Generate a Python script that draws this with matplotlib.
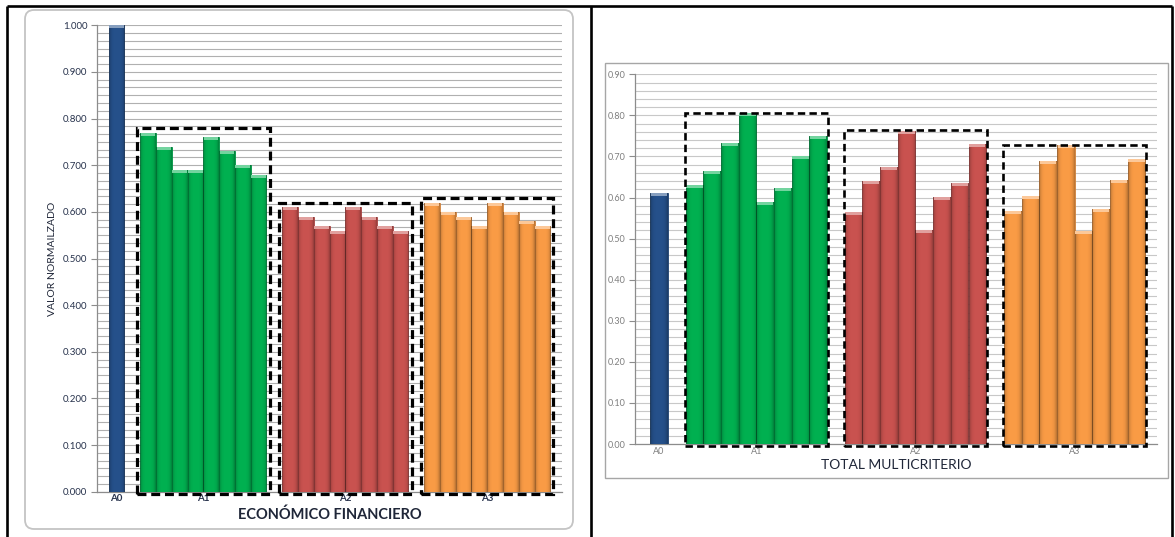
import matplotlib
matplotlib.use("Agg")
import matplotlib.pyplot as plt
import numpy as np
from matplotlib.patches import Rectangle, FancyBboxPatch
from matplotlib.lines import Line2D
from matplotlib.transforms import IdentityTransform
from matplotlib.colors import to_rgb

# ---------------- data ----------------
group_labels = ["A0", "A1", "A2", "A3"]
group_colors = ["#25508A", "#00B050", "#C9524F", "#F99B45"]

# Económico financiero (valor normalizado)
ef_a0 = [1.000]
ef_a1 = [0.77, 0.74, 0.69, 0.69, 0.76, 0.73, 0.70, 0.68]
ef_a2 = [0.61, 0.59, 0.57, 0.56, 0.61, 0.59, 0.57, 0.56]
ef_a3 = [0.62, 0.60, 0.59, 0.57, 0.62, 0.60, 0.58, 0.57]

# Total multicriterio
tm_a0 = [0.61]
tm_a1 = [0.630, 0.665, 0.733, 0.805, 0.589, 0.622, 0.700, 0.750]
tm_a2 = [0.565, 0.640, 0.675, 0.762, 0.522, 0.602, 0.635, 0.731]
tm_a3 = [0.567, 0.603, 0.689, 0.727, 0.518, 0.571, 0.642, 0.695]

W, H = 1175, 537
plt.rcParams["font.family"] = ["Lato", "DejaVu Sans"]
fig = plt.figure(figsize=(W / 100, H / 100), dpi=100)
fig.patch.set_facecolor("white")
PIX = IdentityTransform()


def rect(x0, y0, x1, y1):
    return [x0 / W, 1 - y1 / H, (x1 - x0) / W, (y1 - y0) / H]


def shade_overlay():
    # dark toward the edges of each bar to give a cylindrical look
    t = np.linspace(-1, 1, 64)
    a = 0.28 * np.abs(t) ** 4
    arr = np.zeros((1, 64, 4))
    arr[..., 3] = a
    return arr


def lighten(c, f):
    r = np.array(to_rgb(c))
    return tuple(r + (1 - r) * f)


def darken(c, f):
    return tuple(np.array(to_rgb(c)) * f)


def draw_chart(ax, groups, ylim, major, minor_n, fmt, xlim, box_pad_x, box_pad_top,
               dash, dash_lw, tick_color, tick_size, tick_bold, grid_color, cap_px):
    ax.set_xlim(*xlim)
    ax.set_ylim(*ylim)
    overlay = shade_overlay()
    px_per_unit = ax.get_window_extent().height / (ylim[1] - ylim[0])
    cap_h = cap_px / px_per_unit
    pos = 0
    centers = []
    for gi, vals in enumerate(groups):
        xs = pos + np.arange(len(vals))
        col = group_colors[gi]
        bars = ax.bar(xs, vals, width=1.0, color=col, edgecolor=darken(col, 0.82),
                      linewidth=0.6, zorder=3)
        for b, v in zip(bars, vals):
            x0 = b.get_x()
            im = ax.imshow(overlay, extent=(x0, x0 + 1.0, 0, v), aspect="auto",
                           interpolation="bilinear", zorder=4)
            im.set_clip_path(b)
            ax.add_patch(Rectangle((x0 + 0.04, v - cap_h), 0.92, cap_h,
                                   facecolor=lighten(col, 0.45), edgecolor="none",
                                   zorder=5))
        centers.append(xs.mean())
        if gi > 0:
            top = max(vals) + box_pad_top
            bx0 = xs[0] - 0.5 - box_pad_x
            bx1 = xs[-1] + 0.5 + box_pad_x
            by0 = -0.006 * (ylim[1] - ylim[0])
            ax.add_patch(Rectangle((bx0, by0), bx1 - bx0, top - by0, fill=False,
                                   edgecolor="black", linewidth=dash_lw,
                                   linestyle=(0, dash), zorder=6, clip_on=False))
        pos += len(vals) + 1
    ax.set_xlim(*xlim)
    ax.set_ylim(*ylim)
    ax.set_xticks(centers)
    ax.set_xticklabels(group_labels, fontsize=tick_size,
                       fontweight="bold" if tick_bold else "normal", color=tick_color)
    ax.tick_params(axis="x", length=0, pad=2)
    ticks = np.arange(ylim[0], ylim[1] + 1e-9, major)
    ax.set_yticks(ticks)
    ax.set_yticklabels([fmt % t for t in ticks], fontsize=tick_size, color=tick_color)
    ax.set_yticks(np.linspace(ylim[0], ylim[1], int(round((ylim[1] - ylim[0]) / major)) * minor_n + 1),
                  minor=True)
    ax.tick_params(axis="y", which="major", length=4, color="#8C8C8C", pad=3)
    ax.tick_params(axis="y", which="minor", length=0)
    ax.grid(True, axis="y", which="both", color=grid_color, linewidth=0.8, zorder=0)
    ax.set_axisbelow(True)
    for s in ("top", "right"):
        ax.spines[s].set_visible(False)
    for s in ("left", "bottom"):
        ax.spines[s].set_color("#8C8C8C")
        ax.spines[s].set_linewidth(0.9)


# ---------------- left chart ----------------
fig.add_artist(FancyBboxPatch((25, H - 529), 548, 519,
                              boxstyle="round,pad=0,rounding_size=9",
                              facecolor="white", edgecolor="#C4C4C4", linewidth=1.3,
                              transform=PIX, zorder=-5))
axl = fig.add_axes(rect(97, 25.3, 562, 491.7))
axl.patch.set_alpha(0)
draw_chart(axl, [ef_a0, ef_a1, ef_a2, ef_a3], (0, 1.0), 0.1, 6, "%.3f",
           (-1.24, 28.24), 0.2, 0.01, (2.8, 1.5), 2.3, "#27324C", 7, True,
           "#B0B0B0", 3)
axl.set_xlabel("ECONÓMICO FINANCIERO", fontsize=10.5, fontweight="bold",
               color="#1F2638", labelpad=3)
axl.set_ylabel("VALOR NORMAILZADO", fontsize=7.5, color="#1F2638", labelpad=4)

# ---------------- right chart ----------------
fig.add_artist(Rectangle((605, H - 478), 563, 415, facecolor="white",
                         edgecolor="#A6A6A6", linewidth=1.0, transform=PIX, zorder=-5))
axr = fig.add_axes(rect(635, 74.3, 1157, 444))
axr.patch.set_alpha(0)
draw_chart(axr, [tm_a0, tm_a1, tm_a2, tm_a3], (0, 0.9), 0.1, 5, "%.2f",
           (-1.36, 28.16), 0.06, 0.002, (2.8, 1.6), 1.9, "#7F7F7F", 6.5, False,
           "#C8C8C8", 3)
axr.set_xlabel("TOTAL MULTICRITERIO", fontsize=10, color="#1F2638", labelpad=2)

# ---------------- table borders ----------------
for (x0, y0, x1, y1) in [(7, 6, 1172, 6), (7, 6, 7, 537), (590.5, 6, 590.5, 537),
                         (1172, 6, 1172, 537)]:
    fig.add_artist(Line2D([x0, x1], [H - y0, H - y1], color="black", linewidth=1.9,
                          transform=PIX, solid_capstyle="butt", zorder=10))

fig.savefig("out.png", dpi=100)
